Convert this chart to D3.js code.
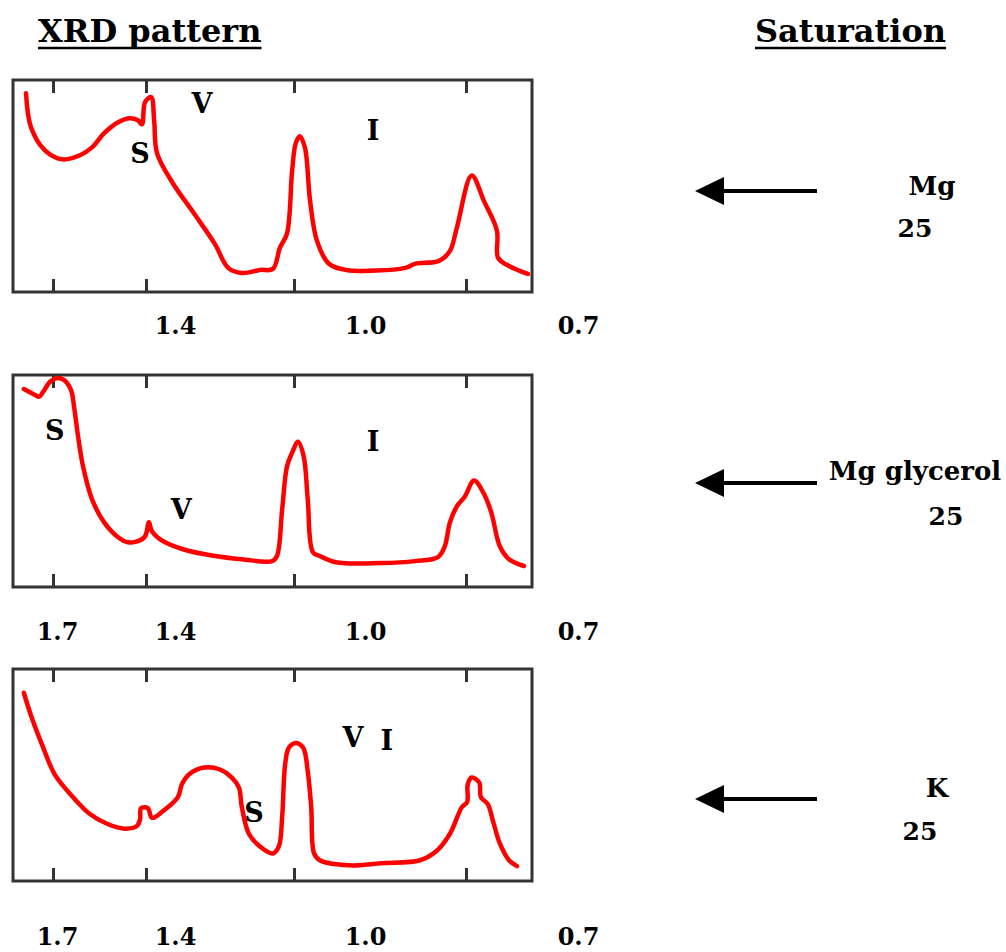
<!DOCTYPE html>
<html>
<head>
<meta charset="utf-8">
<script src="https://cdn.jsdelivr.net/npm/d3@7/dist/d3.min.js"></script>
<style>
body { margin: 0; background: #fff; }
svg { display: block; }
</style>
</head>
<body>
<div id="viz"></div>
<script>
// d-spacing (nm) ticks and the labels printed under each panel
var tickValues = [1.7, 1.4, 1.0, 0.7];
var tickLabels = [
    [1.4, 1.0, 0.7],
    [1.7, 1.4, 1.0, 0.7],
    [1.7, 1.4, 1.0, 0.7]
];

var saturations = ["Mg", "Mg glycerol", "K"];
var temps = ["25", "25", "25"];

// traces: [d (nm), relative intensity 0-100]
var mg25 = [
    [1.787, 93.8], [1.771, 77.7], [1.726, 66.8], [1.671, 62.6], [1.613, 64.5],
    [1.574, 68.2], [1.535, 74.9], [1.490, 80.1], [1.452, 82.0], [1.426, 81.0],
    [1.413, 79.1], [1.403, 89.6], [1.386, 91.9], [1.378, 81.0], [1.370, 65.4],
    [1.327, 51.2], [1.270, 37.0], [1.214, 22.7], [1.178, 11.4], [1.141, 9.0],
    [1.092, 10.4], [1.057, 10.9], [1.038, 20.9], [1.019, 27.5], [1.005, 57.3],
    [0.997, 70.1], [0.990, 73.5], [0.981, 68.2], [0.972, 43.1], [0.960, 24.2],
    [0.939, 13.3], [0.909, 10.4], [0.806, 11.4], [0.789, 13.3], [0.747, 14.7],
    [0.728, 19.4], [0.716, 30.3], [0.690, 55.0], [0.669, 43.1], [0.646, 28.9],
    [0.644, 16.1], [0.625, 12.3], [0.592, 8.5]
];
var mgGly25 = [
    [1.794, 93.4], [1.758, 90.6], [1.745, 89.7], [1.732, 92.0], [1.710, 96.7],
    [1.687, 98.6], [1.665, 97.7], [1.642, 93.0], [1.632, 85.0], [1.619, 70.9],
    [1.603, 56.8], [1.574, 41.3], [1.535, 30.5], [1.490, 23.5], [1.458, 21.1],
    [1.426, 21.6], [1.403, 23.9], [1.392, 30.5], [1.384, 26.3], [1.354, 21.6],
    [1.300, 17.8], [1.214, 14.6], [1.141, 13.1], [1.059, 12.2], [1.046, 14.6],
    [1.032, 36.6], [1.019, 56.8], [1.005, 63.4], [0.993, 68.5], [0.983, 61.5],
    [0.976, 41.3], [0.967, 16.4], [0.955, 14.6], [0.927, 11.7], [0.848, 11.3],
    [0.789, 12.2], [0.749, 14.1], [0.737, 19.2], [0.728, 30.5], [0.716, 38.0],
    [0.702, 42.7], [0.686, 50.2], [0.670, 44.6], [0.656, 35.2], [0.641, 19.2],
    [0.625, 13.1], [0.599, 9.9]
];
var k25 = [
    [1.794, 88.8], [1.771, 78.1], [1.735, 64.2], [1.694, 50.2], [1.635, 39.5],
    [1.581, 31.6], [1.526, 27.0], [1.468, 24.7], [1.429, 26.0], [1.419, 29.3],
    [1.416, 34.4], [1.395, 34.4], [1.384, 29.8], [1.354, 33.0], [1.314, 39.5],
    [1.303, 45.6], [1.284, 50.2], [1.243, 53.5], [1.200, 52.6], [1.168, 48.8],
    [1.149, 44.2], [1.141, 34.9], [1.122, 22.3], [1.092, 16.3], [1.057, 13.0],
    [1.041, 16.3], [1.032, 30.2], [1.024, 54.9], [1.014, 62.8], [0.997, 65.1],
    [0.984, 62.8], [0.976, 51.6], [0.970, 34.9], [0.965, 13.0], [0.955, 9.8],
    [0.904, 7.4], [0.848, 8.4], [0.780, 9.8], [0.752, 14.0], [0.728, 22.3],
    [0.707, 34.9], [0.698, 37.2], [0.697, 45.6], [0.690, 48.8], [0.677, 46.5],
    [0.674, 39.5], [0.662, 36.3], [0.653, 28.4], [0.641, 17.7], [0.625, 9.8],
    [0.611, 7.0]
];

// mineral labels: [text, d, intensity]
var peakLabels = [
    [["S", 1.419, 60.7], ["V", 1.249, 84.4], ["I", 0.862, 71.6]],
    [["S", 1.694, 69.5], ["V", 1.305, 31.9], ["I", 0.862, 64.3]],
    [["V", 0.897, 63.3], ["I", 0.838, 61.9], ["S", 1.108, 27.9]]
];

var series = [mg25, mgGly25, k25];

var W = 1006, H = 952;
var svg = d3.select('#viz').append('svg')
    .attr('width', W)
    .attr('height', H);

var font = '"DejaVu Serif", "Liberation Serif", serif';
var boxLeft = 13, boxRight = 532;
var panelTop = [80, 375, 669];
var panelH = 212;
var labelBase = [334, 640, 945];
var arrowY = [191, 483, 799];
var satPos = [[932, 195], [915, 480], [937, 797]];
var tempPos = [[915, 237], [946, 525], [920, 840]];

// hand drawn figure: tick spacing is not uniform, labels sit further out than ticks
var x = d3.scaleLinear().domain(tickValues).range([53, 146, 294, 466]);
var xl = d3.scaleLinear().domain(tickValues).range([57, 175, 365, 578]);

// headers
function header(txt, xpos) {
    var t = svg.append('text')
        .attr('x', xpos)
        .attr('y', 42)
        .style('font-family', font)
        .style('font-weight', 'bold')
        .style('font-size', '32px')
        .attr('fill', '#000')
        .text(txt);
    var w = t.node().getComputedTextLength();
    svg.append('line')
        .attr('x1', xpos).attr('x2', xpos + w)
        .attr('y1', 48).attr('y2', 48)
        .attr('stroke', '#000')
        .attr('stroke-width', 2.5);
}
header('XRD pattern', 38);
header('Saturation', 755);

series.forEach(function(data, i) {
    var top = panelTop[i];
    var y = d3.scaleLinear().domain([0, 100]).range([top + panelH, top]);
    var g = svg.append('g').attr('class', 'panel-' + i);

    // ticks inside the frame, top and bottom
    var ticksTop = g.append('g')
        .attr('transform', 'translate(0,' + top + ')')
        .call(d3.axisBottom(x).tickValues(tickValues).tickSize(13).tickFormat(''));
    var ticksBot = g.append('g')
        .attr('transform', 'translate(0,' + (top + panelH) + ')')
        .call(d3.axisTop(x).tickValues(tickValues).tickSize(13).tickFormat(''));
    [ticksTop, ticksBot].forEach(function(a) {
        a.select('.domain').remove();
        a.selectAll('line').attr('stroke', '#333').attr('stroke-width', 3);
    });

    g.append('rect')
        .attr('x', boxLeft)
        .attr('y', top)
        .attr('width', boxRight - boxLeft)
        .attr('height', panelH)
        .attr('fill', 'none')
        .attr('stroke', '#333')
        .attr('stroke-width', 3);

    var line = d3.line()
        .x(function(d) { return x(d[0]); })
        .y(function(d) { return y(d[1]); })
        .curve(d3.curveCatmullRom.alpha(0.5));

    g.append('path')
        .attr('d', line(data))
        .attr('fill', 'none')
        .attr('stroke', '#ff0000')
        .attr('stroke-width', 4.5)
        .attr('stroke-linejoin', 'round')
        .attr('stroke-linecap', 'round');

    g.selectAll('.peak')
        .data(peakLabels[i])
        .enter().append('text')
        .attr('class', 'peak')
        .attr('x', function(d) { return x(d[1]); })
        .attr('y', function(d) { return y(d[2]); })
        .attr('text-anchor', 'middle')
        .style('font-family', font)
        .style('font-weight', 'bold')
        .style('font-size', '27px')
        .text(function(d) { return d[0]; });

    // tick labels below the frame
    var lab = g.append('g')
        .attr('transform', 'translate(0,' + labelBase[i] + ')')
        .call(d3.axisBottom(xl).tickValues(tickLabels[i]).tickSize(0).tickPadding(0)
            .tickFormat(d3.format('.1f')));
    lab.select('.domain').remove();
    lab.selectAll('text')
        .attr('y', 0)
        .attr('dy', null)
        .attr('fill', '#000')
        .style('font-family', font)
        .style('font-weight', 'bold')
        .style('font-size', '24px');

    // arrow pointing at the pattern
    var ay = arrowY[i];
    g.append('line')
        .attr('x1', 817).attr('x2', 718)
        .attr('y1', ay).attr('y2', ay)
        .attr('stroke', '#000')
        .attr('stroke-width', 4);
    g.append('path')
        .attr('d', 'M695,' + ay + 'L724,' + (ay - 14) + 'L724,' + (ay + 14) + 'Z')
        .attr('fill', '#000');

    g.append('text')
        .attr('x', satPos[i][0])
        .attr('y', satPos[i][1])
        .attr('text-anchor', 'middle')
        .style('font-family', font)
        .style('font-weight', 'bold')
        .style('font-size', '26px')
        .text(saturations[i]);
    g.append('text')
        .attr('x', tempPos[i][0])
        .attr('y', tempPos[i][1])
        .attr('text-anchor', 'middle')
        .style('font-family', font)
        .style('font-weight', 'bold')
        .style('font-size', '25px')
        .text(temps[i]);
});
</script>
</body>
</html>
